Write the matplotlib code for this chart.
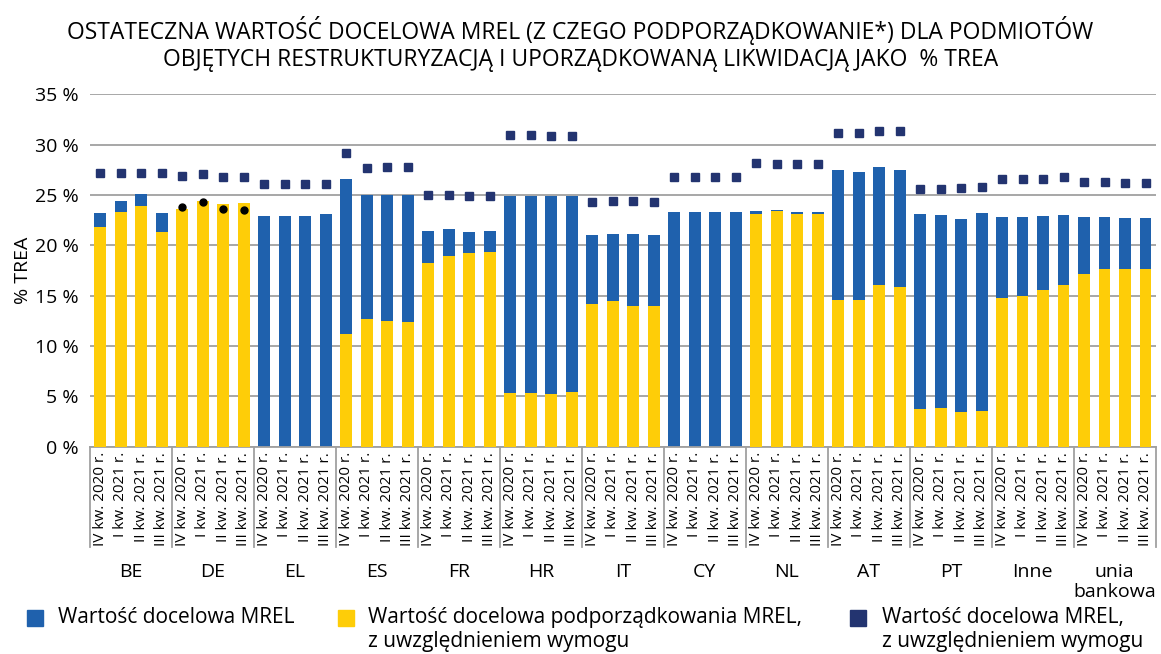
import numpy as np
import matplotlib.pyplot as plt
from matplotlib.patches import Rectangle
import matplotlib.transforms as mtransforms

plt.rcParams['font.family'] = ['Open Sans', 'DejaVu Sans']

groups = ['BE', 'DE', 'EL', 'ES', 'FR', 'HR', 'IT', 'CY', 'NL', 'AT', 'PT', 'Inne', 'unia\nbankowa']
quarters = ['IV kw. 2020 r.', 'I kw. 2021 r.', 'II kw. 2021 r.', 'III kw. 2021 r.']

# MREL target (% TREA)
mrel = [23.2, 24.4, 25.1, 23.2,
        0.0, 0.0, 0.0, 0.0,
        22.9, 22.9, 22.9, 23.1,
        26.6, 25.0, 25.0, 25.0,
        21.4, 21.6, 21.3, 21.4,
        24.9, 24.9, 24.9, 24.9,
        21.0, 21.1, 21.1, 21.0,
        23.3, 23.3, 23.3, 23.3,
        23.4, 23.5, 23.3, 23.3,
        27.5, 27.3, 27.8, 27.5,
        23.1, 23.0, 22.6, 23.2,
        22.8, 22.8, 22.9, 23.0,
        22.8, 22.8, 22.7, 22.7]

# subordination target incl. requirement
sub = [21.8, 23.3, 23.9, 21.3,
       23.6, 24.4, 24.1, 24.2,
       0.0, 0.0, 0.0, 0.0,
       11.2, 12.7, 12.5, 12.4,
       18.2, 18.9, 19.2, 19.3,
       5.3, 5.3, 5.2, 5.4,
       14.2, 14.5, 14.0, 14.0,
       0.0, 0.0, 0.0, 0.0,
       23.1, 23.4, 23.1, 23.1,
       14.6, 14.6, 16.1, 15.9,
       3.7, 3.8, 3.4, 3.5,
       14.8, 15.0, 15.6, 16.1,
       17.1, 17.6, 17.6, 17.6]

# MREL target incl. requirement
mrel_req = [27.2, 27.2, 27.2, 27.2,
            26.9, 27.1, 26.8, 26.8,
            26.1, 26.1, 26.1, 26.1,
            29.2, 27.7, 27.8, 27.8,
            25.0, 25.0, 24.9, 24.9,
            30.9, 30.9, 30.8, 30.8,
            24.3, 24.4, 24.4, 24.3,
            26.8, 26.8, 26.8, 26.8,
            28.2, 28.1, 28.1, 28.1,
            31.1, 31.1, 31.3, 31.3,
            25.6, 25.6, 25.7, 25.8,
            26.6, 26.6, 26.6, 26.8,
            26.3, 26.3, 26.2, 26.2]

# DE dots
de_dots = [23.8, 24.3, 23.6, 23.5]

blue = '#1f61ad'
yellow = '#fecd08'
navy = '#233470'

fig = plt.figure(figsize=(11.61, 6.54), dpi=100)
ax = fig.add_axes([0.0775, 0.317, 0.918, 0.539])

x = np.arange(len(mrel))
w = 0.58
ax.bar(x, mrel, width=w, color=blue, zorder=2)
ax.bar(x, sub, width=w, color=yellow, zorder=3)
ax.plot(x, mrel_req, 's', color=navy, markersize=6, zorder=4)
ax.plot(x[4:8], de_dots, 'o', color='black', markersize=5, zorder=5)

ax.set_ylim(0, 35)
ax.set_xlim(-0.5, len(mrel) - 0.5)
ax.set_yticks(np.arange(0, 36, 5))
ax.set_yticklabels([f'{v} %' for v in range(0, 36, 5)], fontsize=14)
ax.yaxis.grid(True, color='#a0a0a0', linewidth=1.3, zorder=0)
ax.set_axisbelow(True)
for s in ['top', 'right', 'left']:
    ax.spines[s].set_visible(False)
ax.spines['bottom'].set_color('#a0a0a0')
ax.spines['bottom'].set_linewidth(1.3)
ax.tick_params(axis='y', length=0, pad=8)

ax.set_xticks(x)
ax.set_xticklabels(quarters * len(groups), rotation=90, fontsize=11, va='top', ha='center')
ax.tick_params(axis='x', length=0, pad=4)

ax.set_ylabel('% TREA', fontsize=14, labelpad=2)

trans = mtransforms.blended_transform_factory(ax.transData, ax.transAxes)
for g in range(len(groups) + 1):
    ax.plot([g * 4 - 0.5] * 2, [0, -0.284], color='#a0a0a0', linewidth=1.3,
            transform=trans, clip_on=False)
for g, name in enumerate(groups):
    ax.text(g * 4 + 1.5, -0.33, name, transform=trans, ha='center', va='top',
            fontsize=14, linespacing=1.15)

fig.text(0.5, 1 - 44 / 654, 'OSTATECZNA WARTOŚĆ DOCELOWA MREL (Z CZEGO PODPORZĄDKOWANIE*) DLA PODMIOTÓW\n'
         'OBJĘTYCH RESTRUKTURYZACJĄ I UPORZĄDKOWANĄ LIKWIDACJĄ JAKO  % TREA',
         ha='center', va='center', fontsize=16.5, linespacing=1.15)

legend_items = [(blue, 'Wartość docelowa MREL', 27, 58),
                (yellow, 'Wartość docelowa podporządkowania MREL,\nz uwzględnieniem wymogu', 338, 368),
                (navy, 'Wartość docelowa MREL,\nz uwzględnieniem wymogu', 850, 882)]
for col, label, px, tx in legend_items:
    fig.patches.append(Rectangle((px / 1161, 1 - 626 / 654), 16 / 1161, 16 / 654,
                                 transform=fig.transFigure, color=col))
    fig.text(tx / 1161, 1 - 607 / 654, label, ha='left', va='top',
             fontsize=15, linespacing=1.2, transform=fig.transFigure)

fig.savefig('out.png', dpi=100)
